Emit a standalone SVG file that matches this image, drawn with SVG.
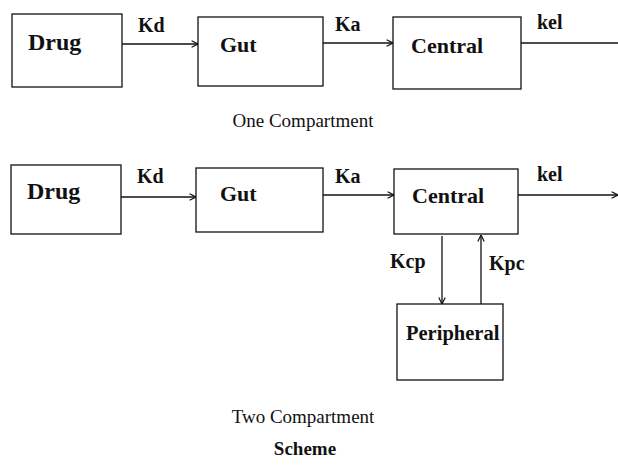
<svg xmlns="http://www.w3.org/2000/svg" width="618" height="467" viewBox="0 0 618 467">
<defs>
<style>
.box{fill:#fff;stroke:#111;stroke-width:1.3}
.lbl{font-family:"Liberation Serif","Times New Roman",serif;font-weight:bold;font-size:22px;fill:#111}
.big{font-size:24px}
.per{font-size:20.5px}
.k{font-family:"Liberation Serif","Times New Roman",serif;font-weight:bold;font-size:20px;fill:#111}
.cap{font-family:"Liberation Serif","Times New Roman",serif;font-size:19px;fill:#111;text-anchor:middle}
.capb{font-family:"Liberation Serif","Times New Roman",serif;font-size:19px;font-weight:bold;fill:#111;text-anchor:middle}
.ln{stroke:#111;stroke-width:1.3;fill:none}
</style>
<marker id="ah" viewBox="0 0 10 10" refX="10" refY="5" markerWidth="8" markerHeight="8" markerUnits="userSpaceOnUse" orient="auto">
<path d="M2,1 L10,5 L2,9" fill="none" stroke="#111" stroke-width="1.5"/>
</marker>
</defs>
<rect width="618" height="467" fill="#fff"/>

<g id="drug1"><rect class="box" x="12" y="14" width="110" height="73"/><text class="lbl big" x="28" y="50">Drug</text></g>
<g id="gut1"><rect class="box" x="198" y="17" width="125" height="69"/><text class="lbl" x="220" y="52">Gut</text></g>
<g id="central1"><rect class="box" x="393" y="17" width="128" height="72"/><text class="lbl" x="411" y="53">Central</text></g>

<g id="drug2"><rect class="box" x="11" y="165" width="110" height="69"/><text class="lbl big" x="27" y="199">Drug</text></g>
<g id="gut2"><rect class="box" x="196" y="168" width="127" height="64"/><text class="lbl" x="220" y="201">Gut</text></g>
<g id="central2"><rect class="box" x="394" y="169" width="124" height="65"/><text class="lbl" x="412" y="203">Central</text></g>
<g id="peripheral"><rect class="box" x="397" y="304" width="106" height="76"/><text class="lbl per" x="406" y="340">Peripheral</text></g>

<g id="connectors">
<line class="ln" x1="122" y1="44" x2="198" y2="44" marker-end="url(#ah)"/>
<line class="ln" x1="323" y1="43" x2="393" y2="43" marker-end="url(#ah)"/>
<line class="ln" x1="521" y1="43" x2="618" y2="43"/>
<line class="ln" x1="121" y1="197" x2="196" y2="197" marker-end="url(#ah)"/>
<line class="ln" x1="323" y1="195" x2="394" y2="195" marker-end="url(#ah)"/>
<line class="ln" x1="518" y1="195" x2="618" y2="195" marker-end="url(#ah)"/>
<line class="ln" x1="442" y1="236" x2="442" y2="304" marker-end="url(#ah)"/>
<line class="ln" x1="481" y1="304" x2="481" y2="235" marker-end="url(#ah)"/>
</g>

<g id="labels">
<text class="k" x="138" y="32">Kd</text>
<text class="k" x="335" y="31">Ka</text>
<text class="k" x="537" y="29">kel</text>
<text class="k" x="137" y="183">Kd</text>
<text class="k" x="335" y="183">Ka</text>
<text class="k" x="537" y="181">kel</text>
<text class="k" x="390" y="268">Kcp</text>
<text class="k" x="489" y="270">Kpc</text>
<text class="cap" x="303" y="127">One Compartment</text>
<text class="cap" x="303" y="423">Two Compartment</text>
<text class="capb" x="305" y="455">Scheme</text>
</g>
</svg>
